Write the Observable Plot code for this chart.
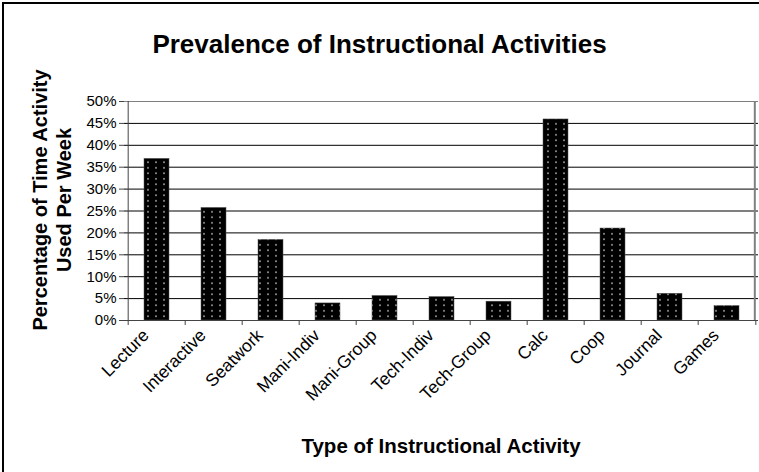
<!DOCTYPE html>
<html>
<head>
<meta charset="utf-8">
<script src="https://cdn.jsdelivr.net/npm/d3@7"></script>
<script src="https://cdn.jsdelivr.net/npm/@observablehq/plot@0.6"></script>
<style>
  body { margin: 0; background: #fff; font-family: "Liberation Sans", Arial, sans-serif; }
  #wrap { position: relative; width: 759px; height: 472px; overflow: hidden; background: #fff; }
  #frame { position: absolute; left: 2px; top: 2px; width: 800px; height: 520px; border-left: 2px solid #000; border-top: 2px solid #000; pointer-events: none; }
  #title { position: absolute; left: 0; width: 759px; top: 29px; text-align: center; font-weight: bold; font-size: 26px; line-height: 30px; color: #000; }
  #ytitle { position: absolute; left: 52px; top: 200px; width: 340px; text-align: center; font-weight: bold; font-size: 20px; line-height: 24px; transform: translate(-50%, -50%) rotate(-90deg); color: #000; }
  #xtitle { position: absolute; left: 441px; top: 434px; transform: translateX(-50%); white-space: nowrap; font-weight: bold; font-size: 20.5px; line-height: 24px; color: #000; }
  #chart { position: absolute; left: 0; top: 0; }
</style>
</head>
<body>
<div id="wrap">
  <div id="chart"></div>
  <div id="title">Prevalence of Instructional Activities</div>
  <div id="ytitle">Percentage of Time Activity<br>Used Per Week</div>
  <div id="xtitle">Type of Instructional Activity</div>
  <div id="frame"></div>
</div>
<script>
const categories = ["Lecture", "Interactive", "Seatwork", "Mani-Indiv", "Mani-Group", "Tech-Indiv", "Tech-Group", "Calc", "Coop", "Journal", "Games"];
const values = [36.9, 25.7, 18.4, 3.9, 5.6, 5.35, 4.3, 45.9, 21.0, 6.1, 3.3];
const yTicks = [0, 5, 10, 15, 20, 25, 30, 35, 40, 45, 50];

const data = categories.map((c, i) => ({cat: c, value: values[i]}));

const W = 759, H = 472, mL = 124, mR = 1, mT = 101, mB = 152;
const step = (W - mL - mR) / categories.length;
const last = categories[categories.length - 1];

const chart = Plot.plot({
  width: W, height: H,
  marginLeft: mL, marginRight: mR, marginTop: mT, marginBottom: mB,
  style: { fontFamily: "'Liberation Sans', Arial, sans-serif", fontSize: "15px", color: "#000", background: "transparent", overflow: "visible" },
  x: { domain: categories, paddingInner: 0.565, paddingOuter: 0.2825, axis: null },
  y: { domain: [0, 50], axis: null },
  marks: [
    Plot.ruleY(yTicks.filter(d => d > 0 && d < 50), { stroke: "#000", strokeWidth: 1 }),
    Plot.ruleY([50], { stroke: "#808080", strokeWidth: 1 }),
    Plot.ruleX([last], { x: d => d, y1: 0, y2: 50, dx: step / 2 - 1, stroke: "#808080", strokeWidth: 2 }),
    Plot.barY(data, { x: "cat", y: "value", fill: "url(#dots)", stroke: "#555", strokeWidth: 0.5 }),
    Plot.ruleY([0], { stroke: "#444", strokeWidth: 1 }),
    Plot.ruleX([categories[0]], { x: d => d, y1: 0, y2: 50, dx: -step / 2, stroke: "#444", strokeWidth: 1 }),
    Plot.ruleX(categories, { x: d => d, y1: 0, y2: 0, insetBottom: -5, dx: -step / 2, stroke: "#444" }),
    Plot.ruleX([last], { x: d => d, y1: 0, y2: 0, insetBottom: -5, dx: step / 2, stroke: "#444" }),
    Plot.axisY({ ticks: yTicks, tickFormat: d => d + "%", tickSize: 5, tickPadding: 3, label: null, stroke: "#444", fontSize: 15 }),
    Plot.text(categories, { x: d => d, y: 0, rotate: -45, textAnchor: "end", lineAnchor: "middle", dx: -11, dy: 12, fontSize: 17.5, fill: "#000" })
  ]
});

const ns = "http://www.w3.org/2000/svg";
const defs = document.createElementNS(ns, "defs");
defs.innerHTML = `<pattern id="dots" patternUnits="userSpaceOnUse" width="8" height="5.5">
  <rect width="8" height="5.5" fill="#000"></rect>
  <rect x="3.3" y="2.1" width="1.4" height="1.4" fill="#e4e4e4"></rect>
</pattern>`;
chart.insertBefore(defs, chart.firstChild);
document.getElementById("chart").appendChild(chart);
</script>
</body>
</html>
